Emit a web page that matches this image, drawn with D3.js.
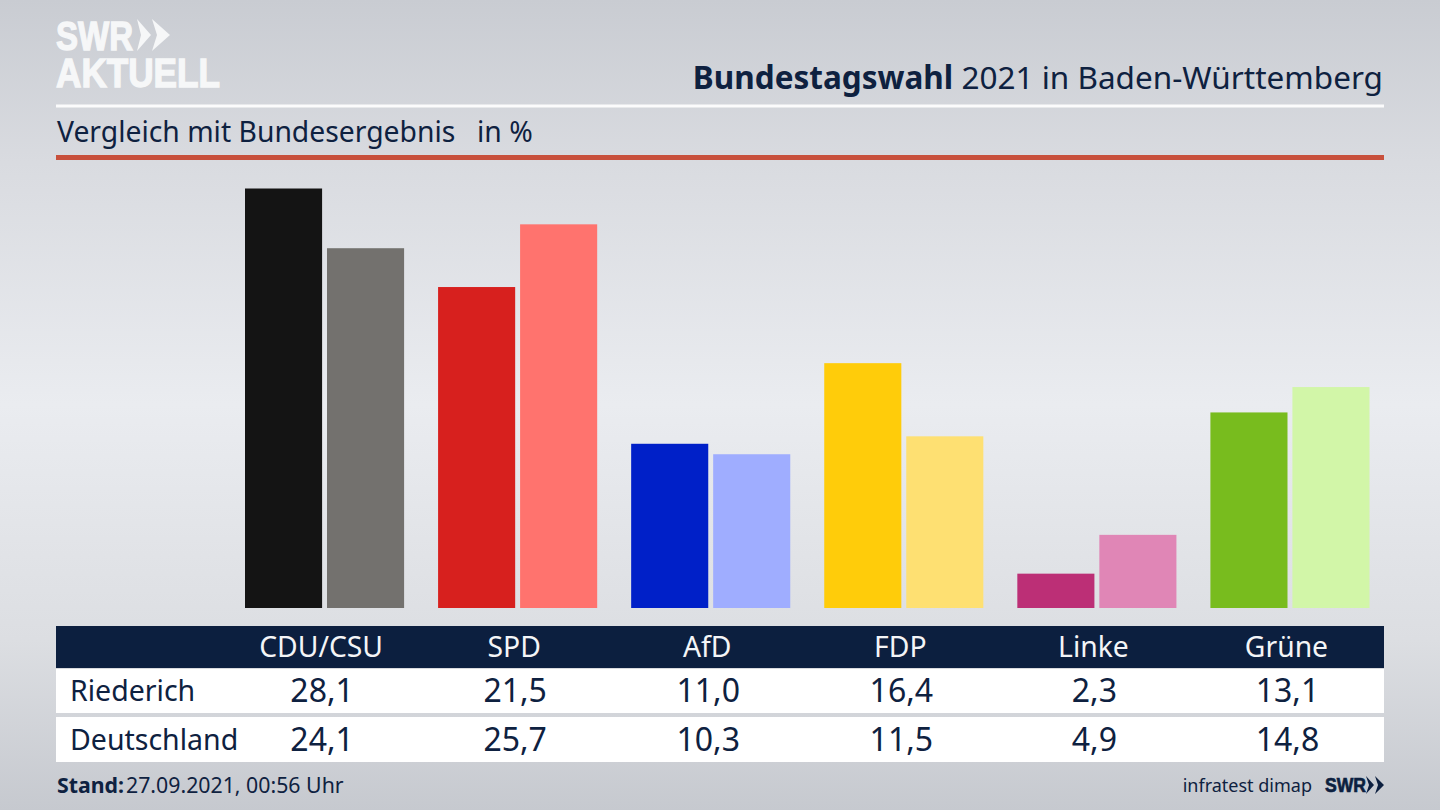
<!DOCTYPE html>
<html>
<head>
<meta charset="utf-8">
<script src="https://cdn.jsdelivr.net/npm/d3@7"></script>
<style>
html, body { margin: 0; padding: 0; background: #d5d8dd; }
svg { display: block; }
text { font-family: "Noto Sans", sans-serif; fill: #0e2140; }
</style>
</head>
<body>
<div id="chart"></div>
<script>
var parties = ['CDU/CSU', 'SPD', 'AfD', 'FDP', 'Linke', 'Grüne'];
var regions = ['Riederich', 'Deutschland'];
var riederich = [28.1, 21.5, 11.0, 16.4, 2.3, 13.1];
var deutschland = [24.1, 25.7, 10.3, 11.5, 4.9, 14.8];
var strongColors = ['#141414', '#d7201e', '#0020c8', '#ffcc0a', '#bc2f76', '#78bc1e'];
var lightColors = ['#73716e', '#ff736e', '#9fadff', '#fee072', '#e086b6', '#d2f6a8'];

var width = 1440, height = 810;
var navy = '#0c1f3f';
var deFormat = d3.formatLocale({decimal: ',', thousands: '.', grouping: [3], currency: ['', '€']}).format('.1f');

var svg = d3.select('#chart').append('svg').attr('width', width).attr('height', height);

// background
var grad = svg.append('defs').append('linearGradient').attr('id', 'bg')
    .attr('x1', 0).attr('y1', 0).attr('x2', 0).attr('y2', 1);
grad.append('stop').attr('offset', '0%').attr('stop-color', '#c9ccd2');
grad.append('stop').attr('offset', '20%').attr('stop-color', '#d9dbe0');
grad.append('stop').attr('offset', '50%').attr('stop-color', '#eaecf0');
grad.append('stop').attr('offset', '79%').attr('stop-color', '#dcdee2');
grad.append('stop').attr('offset', '100%').attr('stop-color', '#c6c9cf');
svg.append('rect').attr('width', width).attr('height', height).attr('fill', 'url(#bg)');

// scales
var y = d3.scaleLinear().domain([0, 28.1]).range([608, 188.5]);
var x0 = d3.scaleBand().domain(parties).range([245, 1369.5]).paddingInner(0.176);
var x1 = d3.scaleBand().domain(regions).range([0, x0.bandwidth()]).paddingInner(0.06);
var colX = function(p) { return x0(p) + x1.bandwidth(); };

// logo
function logoText(x, yPos, label, size, len, color) {
    return svg.append('text').attr('x', x).attr('y', yPos).text(label)
        .attr('textLength', len).attr('lengthAdjust', 'spacingAndGlyphs')
        .style('font-family', '"Liberation Sans"').style('font-weight', 700).style('font-size', size + 'px')
        .style('fill', color).style('stroke', color).style('stroke-width', size / 30);
}
logoText(56, 50, 'SWR', 40, 77, '#f6f7f8');
logoText(56, 87, 'AKTUELL', 40, 164, '#f6f7f8');
svg.append('path').attr('d', 'M137 19 L151 35 L137 51 L141 35 Z M152 19 L170 35 L152 51 L157 35 Z')
    .attr('fill', '#f6f7f8');

// header
var title = svg.append('text').attr('x', 1383).attr('y', 89).attr('text-anchor', 'end').style('font-size', '31.5px');
title.append('tspan').style('font-weight', 700).text('Bundestagswahl');
title.append('tspan').text(' 2021 in Baden-Württemberg');

svg.append('rect').attr('x', 56).attr('y', 104.5).attr('width', 1328).attr('height', 3).attr('fill', '#fbfbfc');
svg.append('text').attr('x', 57).attr('y', 142).style('font-size', '28.3px').text('Vergleich mit Bundesergebnis');
svg.append('text').attr('x', 477).attr('y', 142).style('font-size', '28.3px').text('in %');
svg.append('rect').attr('x', 56).attr('y', 155).attr('width', 1328).attr('height', 5).attr('fill', '#c8503c');

// bars
var groups = svg.append('g').selectAll('g').data(parties).join('g')
    .attr('transform', function(d) { return 'translate(' + x0(d) + ',0)'; });
groups.append('rect')
    .attr('x', x1('Riederich')).attr('width', x1.bandwidth())
    .attr('y', function(d, i) { return y(riederich[i]); })
    .attr('height', function(d, i) { return y(0) - y(riederich[i]); })
    .attr('fill', function(d, i) { return strongColors[i]; });
groups.append('rect')
    .attr('x', x1('Deutschland')).attr('width', x1.bandwidth())
    .attr('y', function(d, i) { return y(deutschland[i]); })
    .attr('height', function(d, i) { return y(0) - y(deutschland[i]); })
    .attr('fill', function(d, i) { return lightColors[i]; });

// table
svg.append('rect').attr('x', 56).attr('y', 626).attr('width', 1328).attr('height', 42).attr('fill', navy);
svg.append('rect').attr('x', 56).attr('y', 669).attr('width', 1328).attr('height', 44).attr('fill', '#fff');
svg.append('rect').attr('x', 56).attr('y', 717).attr('width', 1328).attr('height', 45).attr('fill', '#fff');

svg.append('g').selectAll('text').data(parties).join('text')
    .attr('x', function(d) { return colX(d) - 1; }).attr('y', 657).attr('text-anchor', 'middle')
    .style('font-size', '28.3px').style('fill', '#f4f5f7').text(function(d) { return d; });

var rowY = [702, 751];
[riederich, deutschland].forEach(function(vals, r) {
    svg.append('text').attr('x', 70).attr('y', rowY[r] - 1).style('font-size', '28.5px').text(regions[r]);
    svg.append('g').selectAll('text').data(vals).join('text')
        .attr('x', function(d, i) { return colX(parties[i]); })
        .attr('y', rowY[r]).attr('text-anchor', 'middle')
        .style('font-size', '32px').text(deFormat);
});

// footer
var stand = svg.append('text').attr('x', 57).attr('y', 793).style('font-size', '21.3px');
stand.append('tspan').style('font-weight', 700).text('Stand:');
stand.append('tspan').attr('x', 126).text('27.09.2021, 00:56 Uhr');
svg.append('text').attr('x', 1312).attr('y', 792).attr('text-anchor', 'end').style('font-size', '18px').text('infratest dimap');
logoText(1325, 792, 'SWR', 20, 41, navy);
svg.append('path').attr('d', 'M1366 776 L1374 785 L1366 794 L1369 785 Z M1375 776 L1384 785 L1375 794 L1378 785 Z')
    .attr('fill', navy);
</script>
</body>
</html>
